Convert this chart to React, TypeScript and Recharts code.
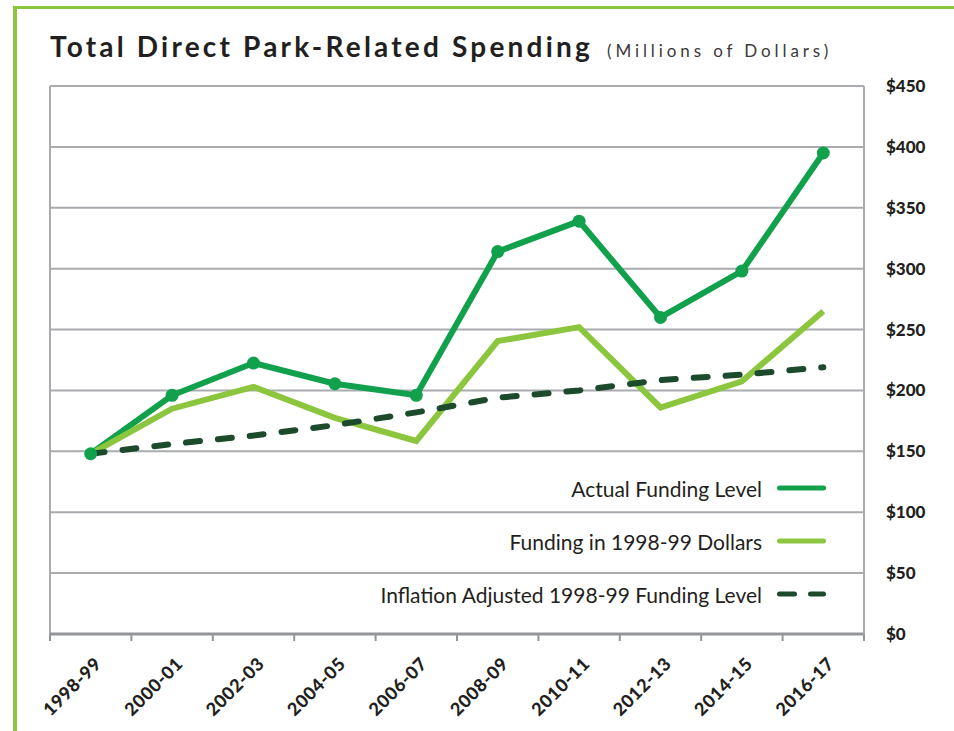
import { LineChart, Line, XAxis, YAxis, CartesianGrid, ReferenceLine } from "recharts";

const years = [
  "1998-99",
  "2000-01",
  "2002-03",
  "2004-05",
  "2006-07",
  "2008-09",
  "2010-11",
  "2012-13",
  "2014-15",
  "2016-17",
];
// millions of dollars
const actualFunding = [148, 196, 222.5, 205.5, 196, 314, 339, 260, 298, 395];
const constantDollars = [148, 185, 203, 177.5, 158.5, 240.5, 252, 186, 207.5, 265];
const inflationAdjusted = [148, 156, 163, 171.5, 182, 194, 200, 208.5, 213, 219];
const yTicks = [0, 50, 100, 150, 200, 250, 300, 350, 400, 450];

const series = [
  { key: "actual", name: "Actual Funding Level", color: "#11a04b", dashed: false },
  { key: "constant", name: "Funding in 1998-99 Dollars", color: "#8cc63f", dashed: false },
  { key: "inflation", name: "Inflation Adjusted 1998-99 Funding Level", color: "#1b4a2d", dashed: true },
];

const data = years.map((year, i) => ({
  year,
  actual: actualFunding[i],
  constant: constantDollars[i],
  inflation: inflationAdjusted[i],
}));

const WIDTH = 954;
const HEIGHT = 731;
const PLOT_LEFT = 50;
const PLOT_RIGHT = 864;
const PLOT_TOP = 86;
const PLOT_BOTTOM = 634;
const BAND = (PLOT_RIGHT - PLOT_LEFT) / years.length;

const gridGray = "#a9abae";
const axisGray = "#939598";
const ink = "#231f20";
const frameGreen = "#8cc63f";
const font = "Lato, 'Open Sans', sans-serif";

function YearTick({ x, y, payload, index }: any) {
  const axisY = y - 8;
  const half = BAND / 2;
  const tx = x + 12;
  const ty = y + 23;
  return (
    <g>
      <line x1={x - half} y1={axisY} x2={x - half} y2={axisY + 7} stroke={axisGray} strokeWidth={2} />
      {index === years.length - 1 && (
        <line x1={x + half} y1={axisY} x2={x + half} y2={axisY + 7} stroke={axisGray} strokeWidth={2} />
      )}
      <text
        x={tx}
        y={ty}
        transform={`rotate(-45 ${tx} ${ty})`}
        textAnchor="end"
        fill={ink}
        fontFamily={font}
        fontWeight={900}
        fontSize={18}
        letterSpacing={0.6}
      >
        {payload.value}
      </text>
    </g>
  );
}

function LegendRows() {
  return (
    <div
      style={{
        position: "absolute",
        left: 0,
        top: 474,
        width: 826,
        display: "flex",
        flexDirection: "column",
        alignItems: "flex-end",
        gap: 25,
      }}
    >
      {series.map((s) => (
        <div key={s.key} style={{ display: "flex", alignItems: "center", height: 28 }}>
          <span style={{ fontFamily: font, fontSize: 21, color: ink, whiteSpace: "nowrap" }}>{s.name}</span>
          <svg width={49} height={8} style={{ marginLeft: 15 }}>
            <line
              x1={2.5}
              y1={4}
              x2={46.5}
              y2={4}
              stroke={s.color}
              strokeWidth={5}
              strokeLinecap="round"
              strokeDasharray={s.dashed ? "15 16" : undefined}
            />
          </svg>
        </div>
      ))}
    </div>
  );
}

export default function App() {
  return (
    <div style={{ position: "absolute", left: 0, top: 0, width: WIDTH, height: HEIGHT, background: "#fff" }}>
      <svg width={WIDTH} height={HEIGHT} style={{ position: "absolute", left: 0, top: 0 }}>
        <rect x={13} y={6} width={4} height={HEIGHT - 6} fill={frameGreen} />
        <rect x={13} y={6} width={WIDTH - 13} height={3} fill={frameGreen} />
        <text x={PLOT_LEFT} y={57} fontFamily={font} fontWeight={700} fontSize={28} letterSpacing={3.2} fill={ink}>
          Total Direct Park-Related Spending
          <tspan dx={14} fontWeight={400} fontSize={17} letterSpacing={3.9} fill="#3a3a3a">
            (Millions of Dollars)
          </tspan>
        </text>
      </svg>
      <div style={{ position: "absolute", left: 0, top: 0 }}>
        <LineChart
          width={WIDTH}
          height={HEIGHT}
          data={data}
          margin={{ top: PLOT_TOP, right: 0, left: PLOT_LEFT, bottom: 0 }}
        >
          <CartesianGrid vertical={false} stroke={gridGray} strokeWidth={2} />
          <XAxis
            dataKey="year"
            scale="band"
            interval={0}
            height={HEIGHT - PLOT_BOTTOM}
            tickLine={false}
            axisLine={{ stroke: axisGray, strokeWidth: 3 }}
            tick={<YearTick />}
          />
          <YAxis
            orientation="right"
            width={WIDTH - PLOT_RIGHT}
            domain={[0, 450]}
            ticks={yTicks}
            tickLine={false}
            axisLine={{ stroke: gridGray, strokeWidth: 2 }}
            tickMargin={16}
            tickFormatter={(v) => `$${v}`}
            tick={{ fill: ink, fontSize: 17, fontWeight: 900, fontFamily: font }}
          />
          <ReferenceLine x={years[0]} position="start" stroke={gridGray} strokeWidth={2} />
          <Line
            dataKey="actual"
            name={series[0].name}
            stroke={series[0].color}
            strokeWidth={6}
            dot={{ r: 6.5, fill: series[0].color, stroke: "none" }}
            activeDot={false}
            isAnimationActive={false}
          />
          <Line
            dataKey="constant"
            name={series[1].name}
            stroke={series[1].color}
            strokeWidth={6}
            dot={false}
            activeDot={false}
            isAnimationActive={false}
          />
          <Line
            dataKey="inflation"
            name={series[2].name}
            stroke={series[2].color}
            strokeWidth={6}
            strokeDasharray="14 18"
            strokeLinecap="round"
            dot={false}
            activeDot={false}
            isAnimationActive={false}
          />
        </LineChart>
      </div>
      <LegendRows />
    </div>
  );
}
